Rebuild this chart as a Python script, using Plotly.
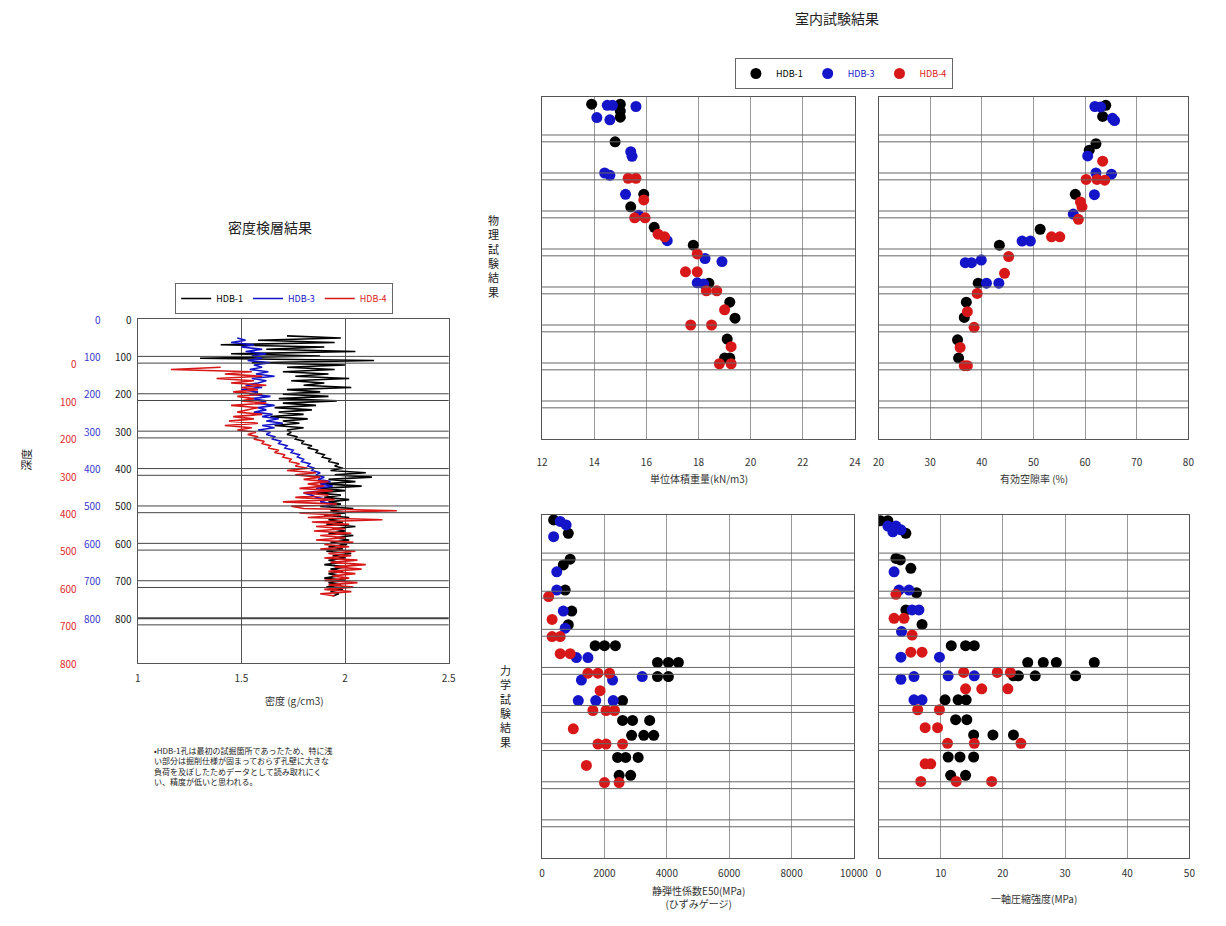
import plotly.graph_objects as go

W, H = 1226, 926
def px(x): return x / W
def py(y): return 1 - y / H

FONT = "Noto Sans CJK JP"
names = ["HDB-1", "HDB-3", "HDB-4"]
colors = ["#000000", "#1414c8", "#d81818"]

# ---------------- density logging (depth on HDB-1/HDB-3 scale, g/cm3) ----------------
dens_hdb1 = [(45,1.72),(51,1.98),(57,1.58),(63,1.95),(69,1.40),(75,1.90),(81,1.62),(87,2.05),(93,1.45),(99,1.88),
             (105,1.30),(111,2.14),(117,1.55),(123,2.00),
             (129,1.72),(135,1.95),(141,1.70),(147,1.92),(153,1.76),(159,2.02),(165,1.74),(171,1.90),(177,1.80),
             (183,2.03),(189,1.72),(195,1.88),(201,1.70),(207,1.92),(213,1.68),(219,1.96),
             (225,1.70),(231,1.86),(237,1.66),(243,1.84),(249,1.68),(255,1.80),(261,1.64),(267,1.82),(273,1.70),
             (279,1.78),(285,1.66),(291,1.80),(297,1.72),
             (303,1.74),(309,1.72),(315,1.77),(321,1.76),(327,1.80),(333,1.79),(339,1.84),(345,1.82),(351,1.87),
             (357,1.86),(363,1.90),(369,1.89),(375,1.93),(381,1.92),(387,1.97),(393,1.95),(399,1.99),
             (405,1.93),(411,2.10),(417,1.95),(423,2.13),(429,1.92),(435,2.05),(441,1.90),
             (447,2.08),(453,1.88),(459,2.00),(465,1.86),(471,1.98),(477,1.90),(483,2.02),(489,1.92),(495,1.98),
             (501,1.88),(507,2.04),(513,1.93),(519,2.00),(525,1.90),(531,2.02),(537,1.92),(543,1.99),(549,1.91),
             (555,2.05),(561,1.94),(567,2.00),(573,1.92),(579,2.04),(585,1.95),(591,2.02),(597,1.93),(603,2.01),
             (609,1.92),(615,1.99),(621,1.91),(627,2.03),(633,1.94),(639,2.00),(645,1.92),(651,1.98),(657,1.90),
             (663,2.01),(669,1.93),(675,1.99),(681,1.92),(687,1.97),(693,1.90),(699,2.00),(705,1.92),(711,1.98),
             (717,1.91),(723,1.99),(729,1.93),(735,1.97),(741,1.94)]
dens_hdb3 = [(51,1.48),(57,1.52),(63,1.45),(69,1.56),(75,1.50),(81,1.60),(87,1.52),(93,1.62),(99,1.55),(105,1.60),
             (111,1.53),(117,1.64),(123,1.56),(129,1.60),(135,1.54),(141,1.63),(147,1.57),(153,1.66),(159,1.55),
             (165,1.62),(171,1.58),(177,1.52),(183,1.60),(189,1.50),(195,1.58),(201,1.54),(207,1.64),(213,1.55),
             (219,1.62),(225,1.57),(231,1.66),(237,1.58),(243,1.62),(249,1.56),(255,1.65),(261,1.60),(267,1.68),
             (273,1.62),(279,1.70),(285,1.60),(291,1.66),(297,1.58),(303,1.64),(309,1.62),(315,1.66),(321,1.65),
             (327,1.69),(333,1.68),(339,1.72),(345,1.71),(351,1.75),(357,1.74),(363,1.78),(369,1.77),(375,1.80),
             (381,1.79),(387,1.83),(393,1.82),(399,1.85),(405,1.84),(411,1.88),(417,1.86),(423,1.90),(429,1.87),
             (435,1.93),(441,1.88),(447,1.94),(453,1.86),(459,1.90),(465,1.80),(471,1.84),(477,1.86),(483,1.92),
             (489,1.88),(495,1.95),(501,1.90)]
dens_hdb4 = [(129,1.40),(135,1.16),(141,1.55),(147,1.42),(153,1.60),(159,1.38),(165,1.56),(171,1.45),(177,1.62),
             (183,1.50),(189,1.58),(195,1.46),(201,1.60),(207,1.48),(213,1.56),(219,1.50),(225,1.62),(231,1.45),
             (237,1.58),(243,1.52),(249,1.48),(255,1.60),(261,1.46),(267,1.56),(273,1.44),(279,1.58),(285,1.42),
             (291,1.55),(297,1.48),(303,1.57),(309,1.53),(315,1.58),(321,1.56),(327,1.61),(333,1.60),(339,1.64),
             (345,1.63),(351,1.68),(357,1.66),(363,1.71),(369,1.70),(375,1.74),(381,1.73),(387,1.78),(393,1.76),
             (399,1.82),(405,1.72),(411,1.86),(417,1.76),(423,1.88),(429,1.80),(435,1.92),(441,1.82),(447,1.90),
             (453,1.78),(459,1.94),(465,1.80),(471,1.92),(477,1.76),(483,1.95),(489,1.70),(495,1.96),(501,1.74),
             (507,1.80),(513,2.25),(519,1.78),(525,1.98),(531,1.82),(537,2.18),(543,1.84),(549,2.02),(555,1.86),
             (561,2.00),(567,1.85),(573,2.03),(579,1.88),(585,2.00),(591,1.86),(597,2.04),(603,1.90),(609,2.02),
             (615,1.88),(621,2.05),(627,1.92),(633,2.03),(639,1.90),(645,2.06),(651,1.93),(657,2.10),(663,1.95),
             (669,2.08),(675,1.92),(681,2.05),(687,1.94),(693,2.02),(699,1.90),(705,2.06),(711,1.92),(717,2.04),
             (723,1.90),(729,2.03),(735,1.88),(741,1.95)]

depth_ticks = [0, 100, 200, 300, 400, 500, 600, 700, 800]
red_offset = 120          # HDB-4 depth scale is shifted against HDB-1/3 scale
layer_lines = [100, 118, 200, 218, 300, 318, 400, 418, 500, 518, 600, 618, 700, 718, 800, 818]

# ---------------- laboratory tests ----------------
uw_hdb1_val = [13.9, 15.0, 15.0, 15.0, 14.8, 15.9, 15.4, 16.3, 17.8, 18.4, 19.2, 19.4, 19.1, 19.0, 19.2]
uw_hdb1_dep = [19, 19, 37, 53, 118, 256, 289, 343, 390, 490, 540, 582, 637, 687, 687]
uw_hdb3_val = [14.5, 14.7, 15.6, 14.1, 14.6, 15.4, 15.45, 14.4, 14.6, 15.2, 15.7, 16.8, 18.25, 18.9, 17.95, 18.2]
uw_hdb3_dep = [22, 22, 25, 54, 60, 144, 156, 200, 206, 256, 311, 378, 425, 433, 489, 492]
uw_hdb4_val = [15.3, 15.6, 15.9, 15.55, 15.95, 16.45, 16.7, 17.95, 17.5, 17.95, 18.3, 18.7, 19.0, 17.7, 18.5, 19.25, 18.8, 19.25]
uw_hdb4_dep = [214, 214, 271, 318, 318, 361, 368, 413, 460, 460, 510, 510, 560, 600, 600, 657, 702, 702]

por_hdb1_val = [64.0, 63.4, 62.1, 60.8, 58.1, 51.3, 43.4, 39.3, 37.0, 36.6, 35.3, 35.5]
por_hdb1_dep = [22, 51, 123, 140, 256, 348, 390, 490, 540, 580, 639, 687]
por_hdb3_val = [61.9, 63.0, 65.3, 65.7, 60.5, 62.1, 65.1, 61.8, 57.7, 47.8, 49.4, 39.9, 36.8, 38.0, 40.9, 43.3]
por_hdb3_dep = [25, 26, 56, 62, 155, 200, 203, 257, 308, 379, 379, 429, 436, 436, 490, 490]
por_hdb4_val = [63.4, 60.2, 62.3, 63.8, 59.1, 59.4, 58.7, 53.5, 55.1, 45.2, 44.4, 39.1, 37.2, 38.5, 35.8, 36.6, 37.2]
por_hdb4_dep = [169, 217, 217, 219, 276, 289, 322, 368, 368, 420, 464, 517, 565, 606, 659, 707, 707]

e50_hdb1_val = [370, 840, 900, 680, 740, 950, 840, 1700, 2000, 2350, 3700, 4050, 4370, 3700, 4050, 2580,
                2580, 2900, 3450, 2870, 3260, 3580, 2420, 2680, 3080, 2470, 2840]
e50_hdb1_dep = [13, 48, 116, 131, 197, 252, 288, 343, 343, 343, 387, 387, 387, 424, 424, 487,
                539, 539, 539, 578, 578, 578, 636, 636, 636, 683, 683]
e50_hdb3_val = [580, 770, 370, 470, 470, 680, 740, 1100, 1470, 3210, 1260, 2260, 1160, 1720, 2280]
e50_hdb3_dep = [17, 26, 57, 149, 197, 252, 297, 374, 374, 424, 433, 433, 487, 487, 487]
e50_hdb4_val = [210, 320, 320, 580, 580, 900, 1470, 1790, 2160, 1860, 1630, 2050, 2320, 1000, 1790, 2050,
                2580, 1420, 2000, 2470]
e50_hdb4_dep = [214, 274, 319, 319, 364, 364, 415, 415, 415, 461, 513, 513, 513, 561, 601, 601,
                601, 657, 702, 702]

qu_hdb1_val = [0.3, 1.5, 4.4, 2.8, 3.5, 5.2, 6.1, 4.4, 7.0, 11.7, 14.0, 15.4, 24.0, 26.5, 28.6, 34.7,
               21.7, 22.5, 25.2, 31.7, 10.7, 12.8, 14.1, 12.4, 14.2, 15.3, 18.4, 21.7, 11.2, 13.1, 15.3, 11.6, 14.0]
qu_hdb1_dep = [15, 15, 48, 114, 118, 140, 204, 249, 287, 343, 343, 343, 387, 387, 387, 387,
               422, 422, 422, 422, 485, 485, 485, 537, 537, 577, 577, 577, 635, 635, 635, 683, 683]
qu_hdb3_val = [1.5, 2.8, 2.3, 3.6, 2.5, 3.3, 4.9, 5.4, 6.5, 3.7, 3.6, 9.8, 11.2, 15.4, 3.6, 5.7, 5.7, 7.0]
qu_hdb3_dep = [29, 29, 44, 39, 149, 197, 197, 249, 249, 306, 373, 373, 422, 422, 431, 424, 485, 485]
qu_hdb4_val = [2.8, 2.5, 4.1, 5.4, 5.2, 7.0, 13.7, 19.1, 21.2, 14.0, 16.6, 20.8, 6.3, 9.8, 7.5, 9.5,
               11.1, 15.4, 22.9, 7.5, 8.4, 6.8, 12.5, 18.2]
qu_hdb4_dep = [208, 271, 271, 315, 360, 360, 413, 413, 413, 456, 456, 456, 511, 511, 558, 558,
               599, 599, 599, 653, 653, 699, 699, 699]

fig = go.Figure()

legend_names = [f"<span style='color:{c}'>{n}</span>" for n, c in zip(names, colors)]

# density log lines
for dens, nm, col in zip([dens_hdb1, dens_hdb3, dens_hdb4], legend_names, colors):
    fig.add_trace(go.Scatter(x=[p[1] for p in dens], y=[p[0] for p in dens], mode="lines",
                             line=dict(color=col, width=1.6), name=nm, legend="legend2",
                             xaxis="x", yaxis="y", hoverinfo="skip"))

panels = [
    ("x2", "y2", [(uw_hdb1_val, uw_hdb1_dep), (uw_hdb3_val, uw_hdb3_dep), (uw_hdb4_val, uw_hdb4_dep)]),
    ("x3", "y3", [(por_hdb1_val, por_hdb1_dep), (por_hdb3_val, por_hdb3_dep), (por_hdb4_val, por_hdb4_dep)]),
    ("x4", "y4", [(e50_hdb1_val, e50_hdb1_dep), (e50_hdb3_val, e50_hdb3_dep), (e50_hdb4_val, e50_hdb4_dep)]),
    ("x5", "y5", [(qu_hdb1_val, qu_hdb1_dep), (qu_hdb3_val, qu_hdb3_dep), (qu_hdb4_val, qu_hdb4_dep)]),
]
for pi, (xa, ya, sets) in enumerate(panels):
    for si, (vals, deps) in enumerate(sets):
        fig.add_trace(go.Scatter(x=vals, y=deps, mode="markers", xaxis=xa, yaxis=ya,
                                 marker=dict(color=colors[si], size=11, line=dict(width=0)),
                                 name=legend_names[si], legend="legend", showlegend=(pi == 0)))

tickfont = dict(family=FONT, size=10, color="#333")
common = dict(showline=True, linecolor="#555", linewidth=1, mirror=True, zeroline=False,
              ticks="", tickfont=tickfont, fixedrange=True)

top_y = [py(439), py(97)]
bot_y = [py(858), py(515)]
layout = dict(
    width=W, height=H, margin=dict(l=0, r=0, t=0, b=0),
    paper_bgcolor="white", plot_bgcolor="white",
    font=dict(family=FONT, size=10, color="#333"),
    xaxis=dict(domain=[px(134), px(450)], range=[1, 2.5], dtick=0.5, anchor="y", showgrid=True,
               gridcolor="#555", ticklabelstandoff=6, **common),
    yaxis=dict(domain=[py(663), py(319)], range=[920, 0], anchor="x", showgrid=False,
               showticklabels=False, **common),
    xaxis2=dict(domain=[px(545), px(863)], range=[12, 24], dtick=2, anchor="y2", showgrid=True,
                gridcolor="#999", ticklabelstandoff=14, **common),
    yaxis2=dict(domain=top_y, range=[900, 0], anchor="x2", showgrid=False, showticklabels=False, **common),
    xaxis3=dict(domain=[px(887), px(1202)], range=[20, 80], dtick=10, anchor="y3", showgrid=True,
                gridcolor="#999", ticklabelstandoff=14, **common),
    yaxis3=dict(domain=top_y, range=[900, 0], anchor="x3", showgrid=False, showticklabels=False, **common),
    xaxis4=dict(domain=[px(545), px(862)], range=[0, 10000], dtick=2000, tickformat="d", anchor="y4",
                showgrid=True, gridcolor="#999", ticklabelstandoff=6, **common),
    yaxis4=dict(domain=bot_y, range=[900, 0], anchor="x4", showgrid=False, showticklabels=False, **common),
    xaxis5=dict(domain=[px(887), px(1203)], range=[0, 50], dtick=10, anchor="y5", showgrid=True,
                gridcolor="#999", ticklabelstandoff=6, **common),
    yaxis5=dict(domain=bot_y, range=[900, 0], anchor="x5", showgrid=False, showticklabels=False, **common),
    legend=dict(x=px(741), y=py(58), xanchor="left", yanchor="top", orientation="h",
                bordercolor="#666", borderwidth=1, bgcolor="white", itemwidth=30,
                font=dict(family=FONT, size=9), tracegroupgap=0),
    legend2=dict(x=px(172), y=py(283), xanchor="left", yanchor="top", orientation="h",
                 bordercolor="#666", borderwidth=1, bgcolor="white", itemwidth=30,
                 font=dict(family=FONT, size=9), tracegroupgap=0),
    showlegend=True,
)
fig.update_layout(**layout)

shapes = []
for ya, xd in [("y", "x domain"), ("y2", "x2 domain"), ("y3", "x3 domain"), ("y4", "x4 domain"), ("y5", "x5 domain")]:
    for d in layer_lines:
        w = 2 if (ya == "y" and d == 800) else 1
        shapes.append(dict(type="line", xref=xd, yref=ya, x0=0, x1=1, y0=d, y1=d,
                           line=dict(color="#444" if ya == "y" else "#666", width=w), layer="above"))
fig.update_layout(shapes=shapes)

ann = []
def text(x, y, s, size=10, color="#333", xanchor="center", yanchor="middle", angle=0, align="center"):
    ann.append(dict(x=px(x), y=py(y), xref="paper", yref="paper", text=s, showarrow=False,
                    font=dict(family=FONT, size=size, color=color), xanchor=xanchor, yanchor=yanchor,
                    textangle=angle, align=align))

text(845, 18, "室内試験結果", size=14, color="#222")
text(268, 227, "密度検層結果", size=14, color="#222")
text(496, 256, "物<br>理<br>試<br>験<br>結<br>果", size=11, color="#222")
text(508, 706, "力<br>学<br>試<br>験<br>結<br>果", size=11, color="#222")
text(20, 460, "深度", size=11, color="#222", angle=-90)
text(293, 700, "密度 (g/cm3)", size=10)
text(704, 478, "単位体積重量(kN/m3)", size=10)
text(1045, 478, "有効空隙率 (%)", size=10)
text(704, 897, "静弾性係数E50(MPa)<br>(ひずみゲージ)", size=10)
text(1045, 898, "一軸圧縮強度(MPa)", size=10)
text(148, 766, "•HDB-1孔は最初の試掘箇所であったため、特に浅<br>い部分は掘削仕様が固まっておらず孔壁に大きな<br>"
     "負荷を及ぼしたためデータとして読み取れにく<br>い、精度が低いと思われる。", size=8, color="#222",
     xanchor="left", align="left")

# left depth labels: black & blue (HDB-1 / HDB-3 scale), red (HDB-4 scale)
for d in depth_ticks:
    yy = 319 + d * (663 - 319) / 920
    text(130, yy, str(d), size=10, color="#222", xanchor="right")
    text(99, yy, str(d), size=10, color="#3a3acc", xanchor="right")
    yr = 319 + (d + red_offset) * (663 - 319) / 920
    text(74, yr, str(d), size=10, color="#dd2a2a", xanchor="right")

fig.update_layout(annotations=ann)

fig.write_html("out.html", config={"displayModeBar": False},
               post_script="document.body.style.margin='0';document.body.style.overflow='hidden';")
